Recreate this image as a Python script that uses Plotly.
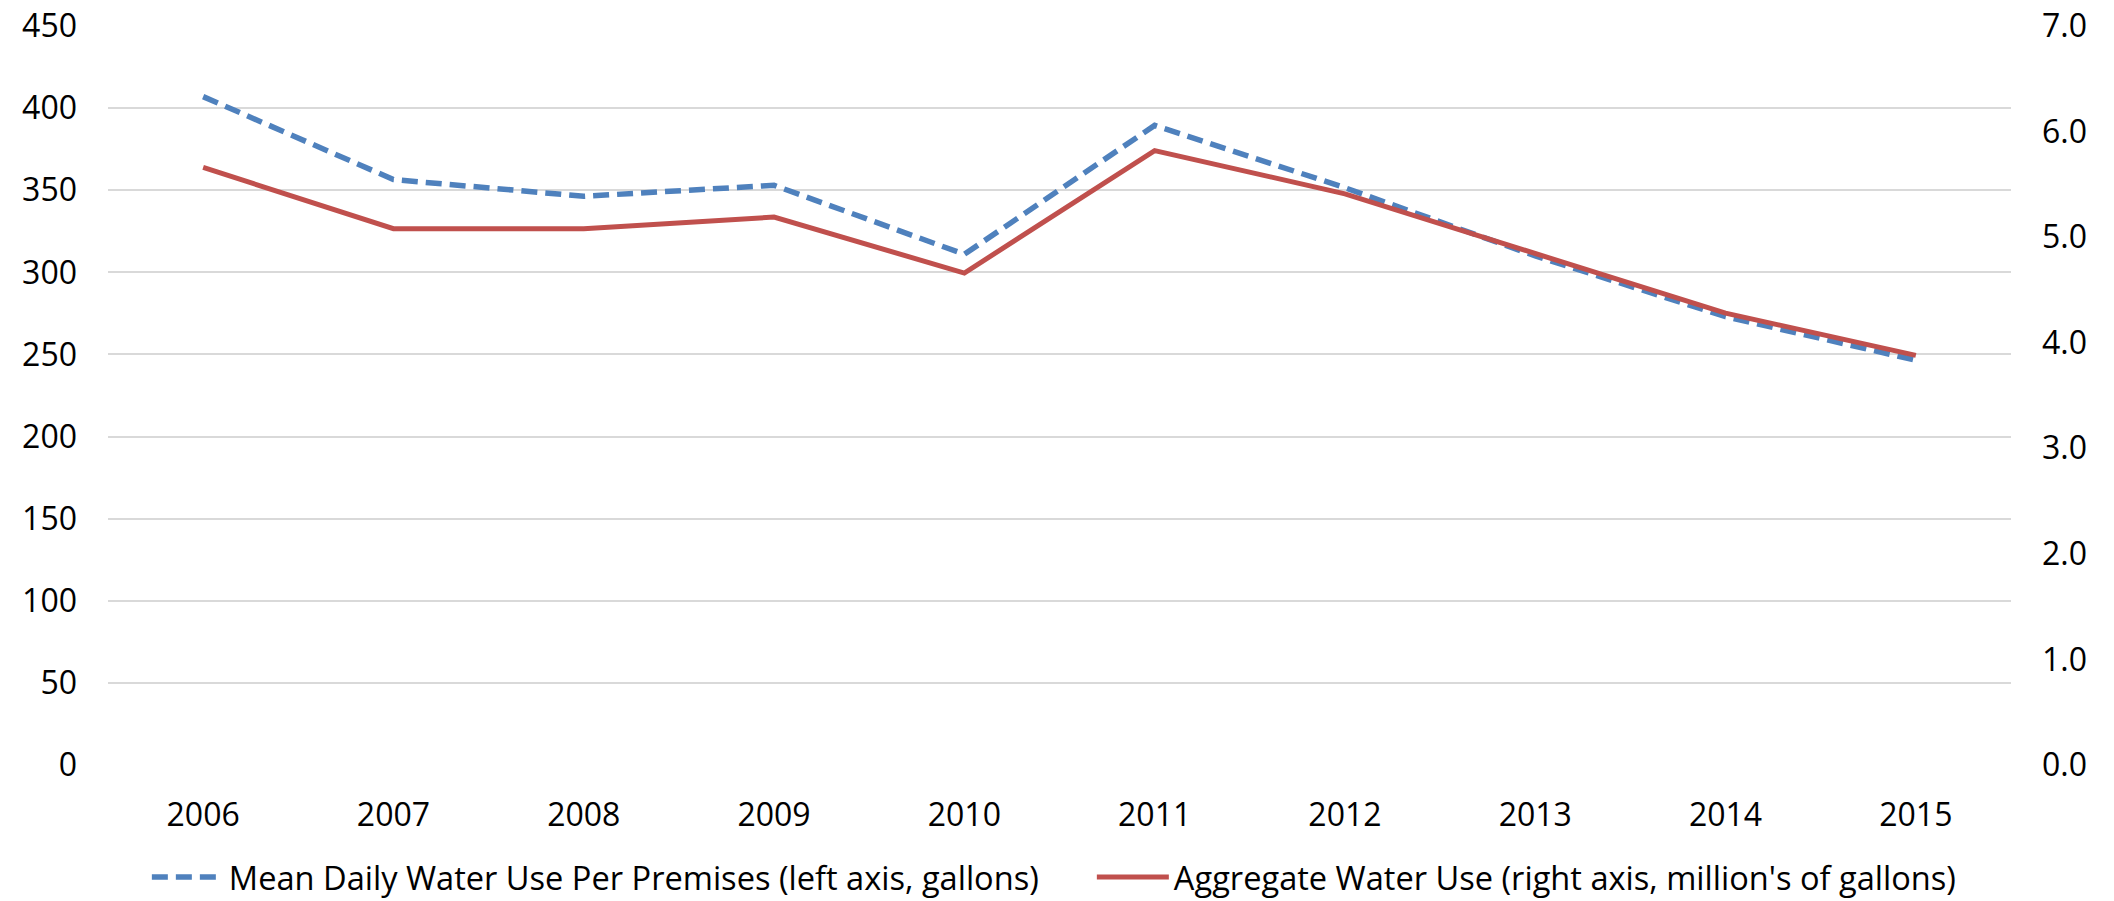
import plotly.graph_objects as go

years = ["2006", "2007", "2008", "2009", "2010", "2011", "2012", "2013", "2014", "2015"]
mean_daily_use = [407, 356.5, 346.3, 353, 311, 389.5, 351.5, 310, 273, 246.5]
aggregate_use = [5.66, 5.08, 5.08, 5.19, 4.66, 5.82, 5.41, 4.84, 4.28, 3.88]

left_ticks = list(range(0, 451, 50))
right_ticks = [0, 1, 2, 3, 4, 5, 6, 7]

FONT = "Open Sans"

fig = go.Figure()
fig.add_trace(go.Scatter(
    x=years, y=mean_daily_use, mode="lines",
    name="Mean Daily Water Use Per Premises (left axis, gallons)",
    line=dict(color="#4f81bd", width=5.5, dash="16px,8px"),
    yaxis="y",
))
fig.add_trace(go.Scatter(
    x=years, y=aggregate_use, mode="lines",
    name="Aggregate Water Use (right axis, million's of gallons)",
    line=dict(color="#c0504d", width=5),
    yaxis="y2",
))

fig.update_layout(
    width=2114, height=901,
    margin=dict(l=108, r=103, t=26, b=136, autoexpand=False),
    paper_bgcolor="white", plot_bgcolor="white",
    font=dict(family=FONT, size=32, color="#000000"),
    showlegend=True,
    legend=dict(orientation="h", x=0.517, xanchor="center", y=-0.152, yanchor="middle",
                font=dict(family=FONT, size=32.6), traceorder="normal",
                itemwidth=72, tracegroupgap=0,
                entrywidth=858, entrywidthmode="pixels"),
    xaxis=dict(
        type="category", range=[-0.5, 9.5], showgrid=False, showline=False,
        zeroline=False, ticks="", tickfont=dict(size=32), ticklabelstandoff=28,
    ),
    yaxis=dict(
        range=[0, 450], tickvals=left_ticks, showgrid=True, gridcolor="#d9d9d9",
        gridwidth=1.5, zeroline=False, showline=False, ticks="",
        tickfont=dict(size=32), ticklabelstandoff=30,
    ),
    yaxis2=dict(
        range=[0, 7], tickvals=right_ticks, tickformat=".1f", overlaying="y",
        side="right", showgrid=False, zeroline=False, showline=False, ticks="",
        tickfont=dict(size=32), ticklabelstandoff=30,
    ),
)

fig.write_html("out.html")
